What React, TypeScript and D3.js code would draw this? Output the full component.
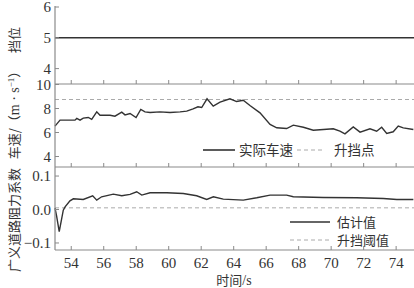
import React from "react";
import * as d3 from "d3";

const xTicks = [54, 56, 58, 60, 62, 64, 66, 68, 70, 72, 74];
const gearTicks = [4, 5, 6];
const speedTicks = [4, 6, 8, 10];
const coefTicks = [-0.1, 0.0, 0.1];
const gearTickLabels = ["4", "5", "6"];
const speedTickLabels = ["4", "6", "8", "10"];
const coefTickLabels = ["\u22120.1", "0.0", "0.1"];

const gearTime = [53.0, 75.1];
const gearValue = [5, 5];

const speedTime = [53.0, 53.31, 54.23, 54.34, 54.54, 54.74, 55.05, 55.26, 55.57, 55.77, 56.39, 56.69, 57.11, 57.31, 57.62, 57.99, 58.28, 58.54, 58.85, 59.46, 60.08, 60.7, 61.11, 61.5, 61.8, 62.03, 62.36, 62.74, 63.16, 63.77, 64.18, 64.59, 65.0, 65.62, 66.24, 66.65, 67.26, 67.67, 68.29, 68.9, 69.52, 70.13, 70.54, 70.85, 71.36, 71.78, 72.39, 72.8, 73.11, 73.42, 73.82, 74.13, 74.44, 75.06];
const speedValue = [6.53, 7.03, 7.03, 7.17, 7.03, 7.2, 7.25, 7.1, 7.72, 7.44, 7.44, 7.36, 7.69, 7.47, 7.58, 7.25, 7.92, 7.72, 7.67, 7.72, 7.67, 7.72, 7.78, 7.97, 8.14, 8.08, 8.81, 8.2, 8.53, 8.81, 8.58, 8.69, 8.25, 7.64, 6.67, 6.39, 6.33, 6.61, 6.44, 6.19, 6.25, 6.31, 6.11, 5.89, 6.47, 6.03, 6.31, 6.11, 6.44, 5.92, 6.06, 6.53, 6.39, 6.25];
const shiftPoint = 8.75;

const coefTime = [53.0, 53.1, 53.26, 53.4, 53.51, 53.62, 53.92, 54.13, 54.74, 55.32, 55.57, 55.87, 56.59, 57.11, 57.62, 58.03, 58.34, 58.85, 59.88, 60.9, 61.72, 62.34, 62.75, 63.36, 64.59, 65.42, 66.24, 67.26, 67.67, 69.52, 71.57, 73.21, 74.04, 75.06];
const coefValue = [0.004, -0.02, -0.066, -0.03, -0.002, 0.008, 0.026, 0.032, 0.03, 0.041, 0.028, 0.038, 0.046, 0.041, 0.045, 0.053, 0.043, 0.05, 0.05, 0.048, 0.041, 0.03, 0.038, 0.031, 0.028, 0.035, 0.043, 0.043, 0.038, 0.036, 0.035, 0.033, 0.03, 0.03];
const shiftThreshold = 0.005;

const W = 414;
const H = 288;
const left = 55;
const right = 414;

const x = d3.scaleLinear().domain([53, 75.1]).range([left, right]);
const yGear = d3.scaleLinear().domain([3.5, 6]).range([84, 7]);
const ySpeed = d3.scaleLinear().domain([3.125, 10]).range([167, 84.5]);
const yCoef = d3.scaleLinear().domain([-0.121, 0.127]).range([250, 167]);

const LINE = "#333";
const AXIS = "#8a8a8a";
const DASH = "#aaa";
const serifStyle = { fontFamily: "'Liberation Serif', 'DejaVu Serif', 'Times New Roman', Times, serif" };
const cjkStyle = { fontFamily: "'Noto Sans CJK SC', sans-serif" };

function linePath(ts: number[], vs: number[], y: d3.ScaleLinear<number, number>) {
  const g = d3.line<number>().x((_, i) => x(ts[i])).y((v) => y(v)).curve(d3.curveLinear);
  return g(vs) || "";
}

function XAxis({ y0 }: { y0: number }) {
  return (
    <g>
      <line x1={left} x2={right} y1={y0} y2={y0} stroke={AXIS} strokeWidth={1.2} />
      {xTicks.map((t) => (
        <line key={t} x1={x(t)} x2={x(t)} y1={y0} y2={y0 - 4} stroke={AXIS} strokeWidth={1} />
      ))}
    </g>
  );
}

function YTicks({ ticks, labels, y }: { ticks: number[]; labels: string[]; y: d3.ScaleLinear<number, number> }) {
  return (
    <g>
      {ticks.map((t, i) => (
        <g key={t}>
          <line x1={left} x2={left + 4} y1={y(t)} y2={y(t)} stroke={AXIS} strokeWidth={1} />
          <text x={left - 4} y={y(t)} dy="0.35em" textAnchor="end" fontSize={15} style={serifStyle} fill="#333">
            {labels[i]}
          </text>
        </g>
      ))}
    </g>
  );
}

export default function App() {
  return (
    <div style={{ position: "absolute", left: 0, top: 0, fontFamily: "'Liberation Serif', serif" }}>
      <svg width={W} height={H} style={{ display: "block", background: "#fff" }}>
        {/* reference lines */}
        <line x1={left} x2={right} y1={ySpeed(shiftPoint)} y2={ySpeed(shiftPoint)} stroke={DASH} strokeWidth={1} strokeDasharray="4,3" />
        <line x1={left} x2={right} y1={yCoef(shiftThreshold)} y2={yCoef(shiftThreshold)} stroke={DASH} strokeWidth={1} strokeDasharray="4,3" />

        {/* data lines */}
        <path d={linePath(gearTime, gearValue, yGear)} fill="none" stroke={LINE} strokeWidth={1.6} />
        <path d={linePath(speedTime, speedValue, ySpeed)} fill="none" stroke={LINE} strokeWidth={1.4} />
        <path d={linePath(coefTime, coefValue, yCoef)} fill="none" stroke={LINE} strokeWidth={1.4} />

        {/* axes */}
        <XAxis y0={84} />
        <XAxis y0={167} />
        <XAxis y0={250} />
        <line x1={left} x2={left} y1={6} y2={250} stroke={AXIS} strokeWidth={1.2} />
        <YTicks ticks={gearTicks} labels={gearTickLabels} y={yGear} />
        <YTicks ticks={speedTicks} labels={speedTickLabels} y={ySpeed} />
        <YTicks ticks={coefTicks} labels={coefTickLabels} y={yCoef} />

        {xTicks.map((t) => (
          <text key={t} x={x(t)} y={268} textAnchor="middle" fontSize={15} style={serifStyle} fill="#333">
            {t}
          </text>
        ))}
        <text x={234} y={285} textAnchor="middle" fontSize={14} style={serifStyle} fill="#333">
          <tspan style={cjkStyle} fontSize={13}>时间</tspan>/s
        </text>

        {/* y labels */}
        <text transform="translate(19,40) rotate(-90)" textAnchor="middle" fontSize={13} style={cjkStyle} fill="#333">
          挡位
        </text>
        <text transform="translate(19,112) rotate(-90)" textAnchor="middle" fontSize={13} style={cjkStyle} fill="#333">
          车速/（<tspan style={serifStyle} fontSize={14}>m · s</tspan>
          <tspan style={serifStyle} fontSize={9} dy={-5}>−1</tspan>
          <tspan dy={5}>）</tspan>
        </text>
        <text transform="translate(19,220) rotate(-90)" textAnchor="middle" fontSize={13} style={cjkStyle} fill="#333">
          广义道路阻力系数
        </text>

        {/* legend panel 2 */}
        <line x1={203} x2={235} y1={150} y2={150} stroke={LINE} strokeWidth={1.6} />
        <text x={239} y={150} dy="0.35em" fontSize={13.5} style={cjkStyle} fill="#333">实际车速</text>
        <line x1={297} x2={325} y1={150} y2={150} stroke={DASH} strokeWidth={1} strokeDasharray="4,3" />
        <text x={334} y={150} dy="0.35em" fontSize={13.5} style={cjkStyle} fill="#333">升挡点</text>

        {/* legend panel 3 */}
        <line x1={290} x2={330} y1={222} y2={222} stroke={LINE} strokeWidth={1.6} />
        <text x={337} y={222} dy="0.35em" fontSize={13} style={cjkStyle} fill="#333">估计值</text>
        <line x1={290} x2={330} y1={240} y2={240} stroke={DASH} strokeWidth={1} strokeDasharray="4,3" />
        <text x={337} y={240} dy="0.35em" fontSize={13} style={cjkStyle} fill="#333">升挡阈值</text>
      </svg>
    </div>
  );
}
